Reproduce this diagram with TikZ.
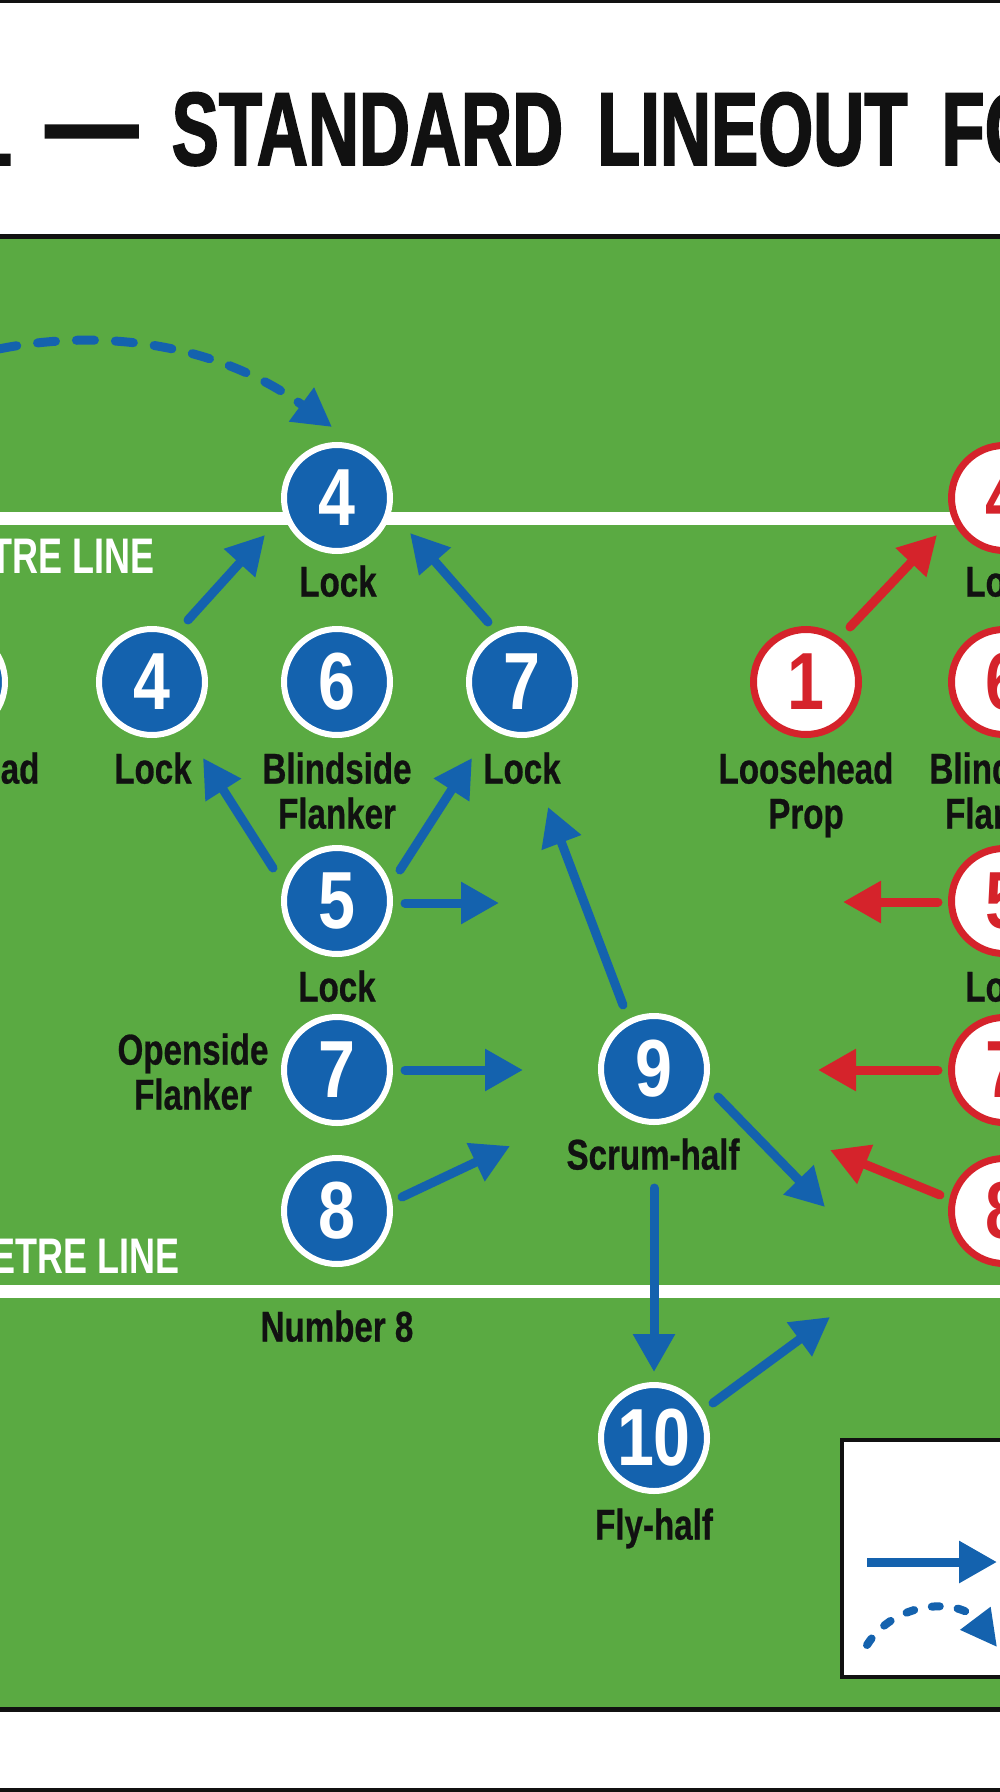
\documentclass[tikz,border=0pt]{standalone}
\usepackage{fontspec}
\usetikzlibrary{arrows.meta,calc}
\newfontfamily\labfont[FakeStretch=0.77,FakeBold=0.6]{Liberation Sans}
\newfontfamily\numfont[FakeStretch=0.82]{Liberation Sans}
\newfontfamily\titfont[FakeStretch=0.68,FakeBold=1.6]{Liberation Sans}
\newfontfamily\linefont[FakeStretch=0.72]{Liberation Sans}
\definecolor{fieldgreen}{HTML}{5AAA42}
\definecolor{pblue}{HTML}{1462AE}
\definecolor{pred}{HTML}{D5232B}
\definecolor{ink}{HTML}{111111}
\begin{document}
\begin{tikzpicture}[x=0.5pt,y=-0.5pt,
  bp/.style={circle, fill=pblue, draw=white, line width=3pt, minimum size=53pt, inner sep=0pt,
    text=white, font=\numfont\bfseries\fontsize{40.5}{40}\selectfont},
  rp/.style={circle, fill=white, draw=pred, line width=3.5pt, minimum size=52.5pt, inner sep=0pt,
    text=pred, font=\numfont\bfseries\fontsize{40.5}{40}\selectfont},
  lab/.style={font=\labfont\bfseries\fontsize{21.5}{22.5}\selectfont, text=ink, align=center,
    inner sep=0pt, anchor=north},
  linelab/.style={font=\linefont\bfseries\fontsize{25}{25}\selectfont, text=white, inner sep=0pt, anchor=base east},
  fieldline/.style={draw=white, line width=6.5pt},
  barrow/.style={draw=pblue, line width=4.5pt, line cap=round, -{Triangle[length=19pt,width=20pt]}},
  rarrow/.style={barrow, draw=pred},
  bdash/.style={draw=pblue, line width=4.5pt, line cap=round, dash pattern=on 9pt off 10.5pt,
    -{Triangle[length=19pt,width=20pt]}},
  ldash/.style={draw=pblue, line width=4pt, line cap=round, dash pattern=on 4pt off 9pt,
    -{Triangle[length=18pt,width=18pt]}},
  legendbox/.style={draw=ink, line width=2pt, fill=white}
]
\useasboundingbox (0,0) rectangle (1000,1792);
\fill[white] (0,0) rectangle (1000,1792);
\draw[ink, line width=2pt] (-10,1) rectangle (1010,1790);

% title
\node[anchor=base west, inner sep=0pt, text=ink, font=\titfont\bfseries\fontsize{52}{60}\selectfont]
  (title) at (-28,165) {\spaceskip=17pt 1 \scalebox{1.3}[1.2]{—} STANDARD LINEOUT FO};

% field
\fill[fieldgreen] (-10,237) rectangle (1010,1709);
\draw[ink, line width=2.5pt] (-10,237) rectangle (1010,1709);
\draw[fieldline] (-10,518) -- (1010,518);
\draw[fieldline] (-10,1291) -- (1010,1291);
\node[linelab] (line1) at (155,573) {TRE LINE};
\node[linelab] (line2) at (180,1273) {ETRE LINE};

% blue players
\node[bp] (bx) at (-48,682) {};
\node[bp] (t4) at (337,498) {4};
\node[bp] (b4) at (152,682) {4};
\node[bp] (b6) at (337,682) {6};
\node[bp] (b7) at (522,682) {7};
\node[bp] (b5) at (337,901) {5};
\node[bp] (b7o) at (337,1070) {7};
\node[bp] (b8) at (337,1211) {8};
\node[bp] (b9) at (654,1069) {9};
\node[bp] (b10) at (654,1438) {10};

% red players
\node[rp] (r4) at (1004,498) {4};
\node[rp] (r1) at (806,682) {1};
\node[rp] (r6) at (1004,682) {6};
\node[rp] (r5) at (1004,901) {5};
\node[rp] (r7) at (1004,1070) {7};
\node[rp] (r8) at (1004,1211) {8};

% labels
\node[lab] (lbx) at (-48,752) {Loosehead};
\node[lab] (lt4) at (338,565) {Lock};
\node[lab] (lb4) at (153,752) {Lock};
\node[lab] (lb6) at (337,752) {Blindside\\Flanker};
\node[lab] (lb7) at (522,752) {Lock};
\node[lab] (lb5) at (337,970) {Lock};
\node[lab] (lb7o) at (193,1033) {Openside\\Flanker};
\node[lab] (lb8) at (337,1310) {Number 8};
\node[lab] (lb9) at (653,1138) {Scrum-half};
\node[lab] (lb10) at (654,1508) {Fly-half};
\node[lab] (lr1) at (806,752) {Loosehead\\Prop};
\node[lab] (lr4) at (1004,565) {Lock};
\node[lab] (lr6) at (1004,752) {Blindside\\Flanker};
\node[lab] (lr5) at (1004,970) {Lock};

% free ends
\coordinate (dstart) at (-178,427);
\coordinate (e5) at (499,903);
\coordinate (e7o) at (523,1070);
\coordinate (e8) at (510,1146);
\coordinate (e9) at (825,1207);
\coordinate (e10) at (830,1317);
\coordinate (er5) at (843,902);
\coordinate (er7) at (818,1070);
\coordinate (er8) at (830,1150);

% blue arrows
\draw[bdash] (dstart) .. controls (-26,315) and (180,315) .. ([shift={(-5,-71)}]t4.center);
\draw[barrow] ([shift={(36,-62)}]b4.center) -- ([shift={(-72,37)}]t4.center);
\draw[barrow] ([shift={(-34,-60)}]b7.center) -- ([shift={(73,35)}]t4.center);
\draw[barrow] ([shift={(-64,-33)}]b5.center) -- ([shift={(51,76)}]b4.center);
\draw[barrow] ([shift={(63,-31)}]b5.center) -- ([shift={(-50,76)}]b7.center);
\draw[barrow] ([shift={(68,2)}]b5.center) -- (e5);
\draw[barrow] ([shift={(68,0)}]b7o.center) -- (e7o);
\draw[barrow] ([shift={(65,-14)}]b8.center) -- (e8);
\draw[barrow] ([shift={(-31,-64)}]b9.center) -- ([shift={(26,125)}]b7.center);
\draw[barrow] ([shift={(64,28)}]b9.center) -- (e9);
\draw[barrow] ([shift={(0,119)}]b9.center) -- ([shift={(0,-66)}]b10.center);
\draw[barrow] ([shift={(59,-35)}]b10.center) -- (e10);

% red arrows
\draw[rarrow] ([shift={(44,-55)}]r1.center) -- ([shift={(-67,37)}]r4.center);
\draw[rarrow] ([shift={(-66,1)}]r5.center) -- (er5);
\draw[rarrow] ([shift={(-66,0)}]r7.center) -- (er7);
\draw[rarrow] ([shift={(-64,-16)}]r8.center) -- (er8);

% legend
\draw[legendbox] (842,1440) rectangle (1012,1677);
\coordinate (l1a) at (867,1562);
\coordinate (l1b) at (997,1562);
\coordinate (l2a) at (867,1645);
\coordinate (l2b) at (997,1647);
\draw[barrow, line cap=butt] (l1a) -- (l1b);
\draw[ldash] (l2a) .. controls (895,1600) and (960,1598) .. (l2b);
\end{tikzpicture}
\end{document}
